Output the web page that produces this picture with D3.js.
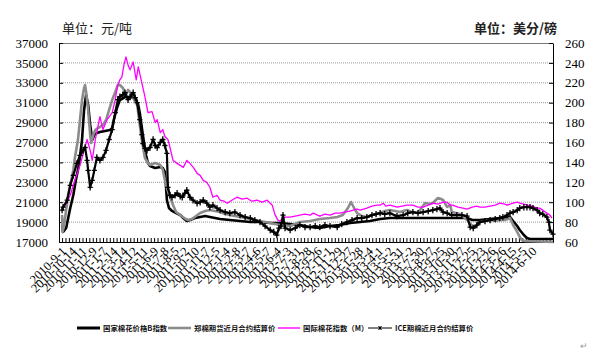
<!DOCTYPE html>
<html>
<head>
<meta charset="utf-8">
<script src="https://cdn.jsdelivr.net/npm/d3@7"></script>
<style>
  body { margin: 0; background: #fff; }
  svg { display: block; }
</style>
</head>
<body>
<svg id="chart" width="592" height="355"></svg>
<script>
// x 轴标签（每 20 个交易日一个）
const tickLabels = [
  "2010-9-1","2010-10-14","2010-11-11","2010-12-9","2011-1-7","2011-2-14","2011-3-14","2011-4-12",
  "2011-5-11","2011-6-9","2011-7-8","2011-8-5","2011-9-2","2011-10-10","2011-11-7","2011-12-5",
  "2012-1-4","2012-2-8","2012-3-7","2012-4-6","2012-5-7","2012-6-4","2012-7-3","2012-7-31",
  "2012-8-28","2012-9-26","2012-11-1","2012-11-29","2012-12-27","2013-1-28","2013-3-4","2013-4-1",
  "2013-5-2","2013-5-31","2013-7-2","2013-7-30","2013-8-27","2013-9-25","2013-10-30","2013-11-27",
  "2013-12-25","2014-1-23","2014-2-26","2014-3-26","2014-4-15","2014-5-5","2014-6-10"
];
const labelStep = 20;

// 国家棉花价格B指数（元/吨）  [交易日序号, 值]
const bIndex = [
  [0,18710],[2,18010],[8,18410],[12,19410],[16,20420],[22,21720],[27,23230],[33,24740],[39,27250],
  [43,30270],[47,31770],[51,30770],[55,28760],[59,27250],[63,27750],[68,27950],[74,28050],[84,28160],
  [94,28260],[98,28460],[102,29460],[108,30570],[113,31270],[123,31570],[133,31570],[143,31470],
  [149,30770],[152,29960],[158,27750],[164,25740],[168,24940],[172,24640],[182,24440],[192,24540],
  [197,24440],[201,24040],[203,22730],[205,21220],[209,20420],[215,20120],[223,19910],[231,19710],
  [239,19310],[244,19110],[250,19210],[260,19410],[270,19510],[280,19610],[289,19510],[299,19410],
  [309,19310],[328,19210],[348,19110],[368,19010],[387,19010],[407,18910],[426,18910],[446,18810],
  [465,18710],[485,18510],[504,18410],[524,18610],[543,18710],[563,18910],[583,19010],[602,19110],
  [622,19310],[641,19410],[661,19410],[700,19410],[739,19410],[778,19410],[792,19410],[802,19210],
  [817,19210],[837,19310],[856,19410],[876,19510],[882,19110],[890,18610],[895,18210],[903,17700],
  [909,17400],[915,17300],[960,17300]
];

// 郑棉期货近月合约结算价（元/吨）
const zcePrice = [
  [0,19710],[1,18010],[4,18710],[8,20220],[12,21720],[16,22730],[22,24240],[25,25440],[31,27250],
  [35,29260],[39,31270],[43,32480],[45,32780],[47,32080],[51,30270],[55,27750],[57,26950],[61,27750],
  [65,28260],[70,28460],[74,28560],[80,28760],[86,29260],[92,30270],[98,31270],[104,32080],[109,32780],
  [113,32780],[119,32480],[125,31770],[129,32280],[135,31970],[141,31270],[147,30770],[152,28760],
  [156,27250],[162,25440],[168,24940],[172,24740],[182,24940],[192,24740],[197,24240],[201,23230],
  [205,22430],[211,21520],[217,20720],[223,20020],[231,19710],[239,19410],[246,19210],[254,19310],
  [262,19610],[270,19910],[280,20120],[289,20220],[299,20120],[309,20020],[319,19810],[328,19710],
  [338,19610],[348,19510],[358,19410],[368,19310],[377,19210],[387,19110],[397,19010],[407,18910],
  [416,18810],[426,18710],[446,18610],[465,19010],[485,19110],[504,19310],[524,19410],[538,19510],
  [549,19710],[559,20420],[565,21020],[571,20420],[577,19910],[586,19610],[596,19510],[606,19710],
  [622,19910],[631,20120],[641,20220],[651,20120],[661,20020],[674,20220],[684,20020],[694,19910],
  [700,20220],[710,20920],[719,20820],[725,20920],[731,21220],[735,21420],[741,21320],[745,21220],
  [753,20520],[759,20720],[762,20020],[778,19810],[792,19210],[804,18510],[811,18610],[817,19010],
  [827,19110],[837,19210],[847,19110],[856,19210],[866,19210],[876,19410],[882,18710],[888,18210],
  [891,17900],[895,17500],[899,17200],[905,17100],[960,17000]
];

// 国际棉花指数（M）（美分/磅）
const cotlookA = [
  [0,94],[6,97],[16,107],[25,122],[35,137],[43,152],[49,163],[55,152],[59,142],[65,163],[74,186],
  [80,173],[88,183],[98,190],[104,203],[108,216],[113,223],[117,226],[121,238],[125,246],[129,238],
  [133,233],[139,241],[145,223],[149,236],[156,220],[162,206],[168,190],[176,191],[182,180],[186,183],
  [192,170],[197,173],[201,166],[207,163],[211,155],[217,142],[225,139],[231,137],[237,135],[244,142],
  [250,139],[258,134],[264,129],[270,127],[276,122],[283,120],[289,115],[295,105],[303,107],[309,102],
  [317,101],[323,99],[332,102],[342,105],[352,103],[362,104],[371,101],[381,102],[391,100],[401,102],
  [411,97],[416,88],[422,82],[426,81],[436,85],[446,85],[456,86],[465,87],[475,88],[485,87],[491,89],
  [504,86],[514,88],[524,87],[534,89],[543,89],[553,90],[563,91],[569,92],[577,93],[583,92],[596,94],
  [606,96],[616,97],[622,97],[628,99],[633,96],[641,97],[655,95],[665,96],[674,97],[686,97],[696,95],
  [706,95],[716,97],[725,99],[735,98],[745,100],[753,100],[759,97],[764,97],[774,95],[784,94],[792,93],
  [802,95],[811,96],[817,95],[827,95],[837,96],[847,97],[856,99],[866,98],[870,97],[882,99],[890,100],
  [895,99],[903,98],[909,97],[919,96],[929,94],[934,94],[940,92],[948,89],[954,87],[958,84]
];

// ICE期棉近月合约结算价（美分/磅）
const icePrice = [
  [0,92],[2,95],[10,102],[16,117],[22,127],[29,139],[35,147],[41,152],[45,155],[49,142],[51,132],
  [55,115],[59,122],[63,132],[68,145],[74,142],[80,145],[86,152],[92,163],[98,173],[104,190],[109,203],
  [113,206],[119,208],[123,210],[129,203],[133,206],[139,210],[143,205],[147,200],[152,183],[156,168],
  [158,159],[162,154],[166,152],[172,155],[178,163],[182,157],[186,155],[192,160],[197,163],[201,157],
  [205,149],[207,115],[211,107],[215,105],[221,107],[225,109],[231,106],[235,105],[240,109],[244,112],
  [250,105],[256,102],[264,99],[270,100],[276,102],[283,99],[289,95],[295,97],[303,94],[309,92],
  [319,90],[328,89],[338,90],[348,87],[358,85],[368,84],[377,82],[387,80],[397,76],[407,72],[414,70],
  [420,67],[424,74],[428,76],[432,87],[436,74],[446,72],[456,74],[465,77],[475,75],[485,75],[495,76],
  [504,75],[514,77],[524,76],[538,75],[547,78],[557,80],[567,82],[577,84],[586,84],[596,85],[606,87],
  [614,88],[622,89],[631,88],[641,89],[655,86],[667,87],[676,89],[686,90],[696,89],[706,90],[716,91],
  [725,92],[733,93],[739,94],[745,90],[753,89],[762,87],[772,87],[782,87],[792,86],[798,75],[804,74],
  [811,77],[817,80],[827,81],[837,82],[847,83],[856,84],[862,85],[870,87],[876,89],[882,90],[890,92],
  [895,94],[903,95],[909,95],[915,95],[921,94],[929,92],[934,89],[940,88],[948,85],[952,80],[954,72],
  [960,68]
];

const seriesNames = ["国家棉花价格B指数", "郑棉期货近月合约结算价", "国际棉花指数（M）", "ICE期棉近月合约结算价"];
const leftTicks = d3.range(17000, 37001, 2000);
const rightTicks = d3.range(60, 261, 20);

const margin = { top: 43, right: 39, bottom: 113, left: 59 },
      width = 592 - margin.left - margin.right,
      height = 355 - margin.top - margin.bottom;

const svg = d3.select("#chart");
const g = svg.append("g").attr("transform", `translate(${margin.left},${margin.top})`);

const x = d3.scaleLinear().domain([-6, 960]).range([0, width]);
const yL = d3.scaleLinear().domain([17000, 37000]).range([height, 0]);
const yR = d3.scaleLinear().domain([60, 260]).range([height, 0]);

const serif = "'Liberation Serif','Times New Roman',serif";
const cjk = "'Noto Sans CJK SC','Noto Sans',sans-serif";

// 网格线
g.append("g").selectAll("line")
  .data(leftTicks.slice(1, -1))
  .join("line")
    .attr("x1", 0).attr("x2", width)
    .attr("y1", d => yL(d)).attr("y2", d => yL(d))
    .attr("stroke", "#999")
    .attr("stroke-width", 1)
    .attr("stroke-dasharray", "1,1");

// 上边框
g.append("line")
  .attr("x1", 0).attr("x2", width).attr("y1", 0.5).attr("y2", 0.5)
  .attr("stroke", "#777");

// 左轴
const axL = g.append("g")
  .call(d3.axisLeft(yL).tickValues(leftTicks).tickFormat(d3.format("d"))
    .tickSizeInner(-4).tickSizeOuter(0).tickPadding(11));
// 右轴
const axR = g.append("g").attr("transform", `translate(${width},0)`)
  .call(d3.axisRight(yR).tickValues(rightTicks).tickSizeInner(-4).tickSizeOuter(0).tickPadding(12));
[axL, axR].forEach(a => {
  a.selectAll("text").attr("font-family", serif).attr("font-size", 13).attr("fill", "#000");
  a.select(".domain").attr("stroke", "#000");
  a.selectAll(".tick line").attr("stroke", "#000");
});

// 底轴（小刻度）
const minorTicks = d3.range(0, 961, labelStep / 3);
const axB = g.append("g").attr("transform", `translate(0,${height})`)
  .call(d3.axisBottom(x).tickValues(minorTicks).tickSizeInner(-4).tickSizeOuter(0).tickFormat(""));
axB.select(".domain").attr("stroke", "#000");
axB.selectAll(".tick line").attr("stroke", "#000");

// 斜排日期标签
g.append("g").selectAll("text")
  .data(tickLabels)
  .join("text")
    .attr("transform", (d, i) => `translate(${x(i * labelStep) + 5},${height + 10}) rotate(-45)`)
    .attr("text-anchor", "end")
    .attr("font-family", serif)
    .attr("font-size", 12.5)
    .attr("fill", "#000")
    .text(d => d);

// 折线
const lineL = d3.line().x(d => x(d[0])).y(d => yL(d[1]));
const lineR = d3.line().x(d => x(d[0])).y(d => yR(d[1]));

g.append("path").datum(bIndex)
  .attr("d", lineL).attr("fill", "none").attr("stroke", "#000").attr("stroke-width", 2.6)
  .attr("stroke-linejoin", "round");
g.append("path").datum(zcePrice)
  .attr("d", lineL).attr("fill", "none").attr("stroke", "#8c8c8c").attr("stroke-width", 2.6)
  .attr("stroke-linejoin", "round");
g.append("path").datum(cotlookA)
  .attr("d", lineR).attr("fill", "none").attr("stroke", "#ff00ff").attr("stroke-width", 1.3)
  .attr("stroke-linejoin", "round");
g.append("path").datum(icePrice)
  .attr("d", lineR).attr("fill", "none").attr("stroke", "#000").attr("stroke-width", 2.2)
  .attr("stroke-linejoin", "round");

// ICE 标记：加号
const plus = "M-2.6,0H2.6M0,-3.2V3.2";
g.append("g").selectAll("path")
  .data(icePrice)
  .join("path")
    .attr("transform", d => `translate(${x(d[0])},${yR(d[1])})`)
    .attr("d", plus)
    .attr("stroke", "#000")
    .attr("stroke-width", 1.3);

// 单位
svg.append("text")
  .attr("x", 62).attr("y", 33)
  .attr("font-family", cjk).attr("font-size", 13).attr("fill", "#222")
  .text("单位：元/吨");
svg.append("text")
  .attr("x", 557).attr("y", 33).attr("text-anchor", "end")
  .attr("font-family", cjk).attr("font-size", 13).attr("font-weight", "bold").attr("fill", "#222")
  .text("单位：美分/磅");

// 图例
const legendY = 328;
const legendItems = [
  { x1: 77, x2: 100, tx: 103, stroke: "#000", w: 3, marker: false },
  { x1: 168, x2: 191, tx: 194, stroke: "#8c8c8c", w: 2.6, marker: false },
  { x1: 278, x2: 300, tx: 303, stroke: "#ff00ff", w: 1.4, marker: false },
  { x1: 368, x2: 392, tx: 395, stroke: "#000", w: 1, marker: true }
];
const legend = svg.append("g");
legendItems.forEach((it, i) => {
  legend.append("line")
    .attr("x1", it.x1).attr("x2", it.x2).attr("y1", legendY).attr("y2", legendY)
    .attr("stroke", it.stroke).attr("stroke-width", it.w);
  if (it.marker) {
    legend.append("path")
      .attr("transform", `translate(${(it.x1 + it.x2) / 2},${legendY})`)
      .attr("d", "M-1.6,-1.6L1.6,1.6M-1.6,1.6L1.6,-1.6M0,-2V2")
      .attr("stroke", "#000").attr("stroke-width", 1);
  }
  legend.append("text")
    .attr("x", it.tx).attr("y", legendY + 2.8)
    .attr("font-family", cjk).attr("font-size", 7.4).attr("font-weight", "bold").attr("fill", "#111")
    .text(seriesNames[i]);
});

// 段落标记
svg.append("text")
  .attr("x", 580).attr("y", 349)
  .attr("font-family", cjk).attr("font-size", 9).attr("fill", "#999")
  .text("↵");
</script>
</body>
</html>
